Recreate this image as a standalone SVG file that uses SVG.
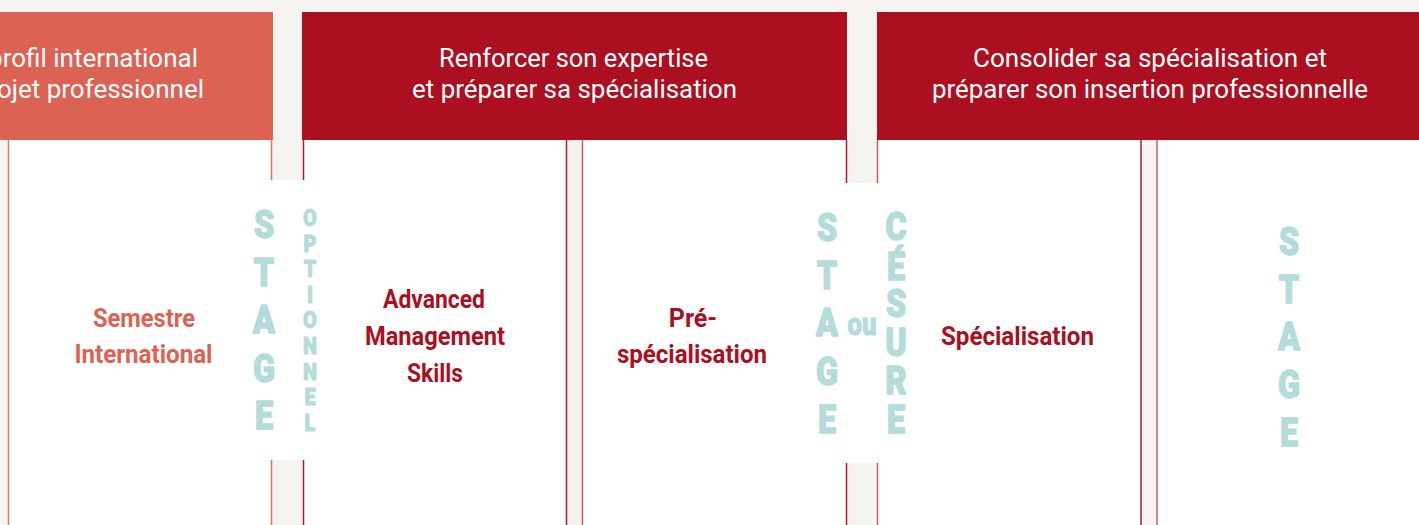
<svg xmlns="http://www.w3.org/2000/svg" width="1419" height="525" viewBox="0 0 1419 525">
<style>
.bg{fill:#f5f4f0}
.panel{fill:#ffffff}
.hdr-s{fill:#dc6253}
.hdr-r{fill:#ab0f20}
.htxt{font-family:Roboto,"Liberation Sans",sans-serif;font-size:26px;fill:#ffffff;text-anchor:middle}
.lbl{font-family:Roboto,"Liberation Sans",sans-serif;font-size:25px;font-weight:bold;text-anchor:middle}
.lbl-s{fill:#dc6253}
.lbl-r{fill:#ab0f20}
.stg{font-family:Roboto,"Liberation Sans",sans-serif;font-weight:900;fill:#b3dcdb;stroke:#b3dcdb;stroke-width:1.3;stroke-linejoin:round;text-anchor:middle}
.big{font-size:38px}
.small{font-size:23.5px;stroke-width:0.9}
.ln-s{stroke:#e5766a;stroke-width:1.5;fill:none}
.ln-r{stroke:#b41a2c;stroke-width:1.5;fill:none}
.ln-p{stroke:#cf5a68;stroke-width:1.5;fill:none}
</style>
<rect class="bg" x="0" y="0" width="1419" height="525"/>
<g id="dividers">
<rect class="panel" x="8" y="140" width="264" height="385"/>
<rect class="panel" x="303" y="140" width="264" height="385"/>
<rect class="panel" x="582" y="140" width="265" height="385"/>
<rect class="panel" x="877" y="140" width="264" height="385"/>
<rect class="panel" x="1157" y="140" width="262" height="385"/>
<line class="ln-s" x1="8.5" y1="140" x2="8.5" y2="525"/>
<line class="ln-s" x1="271.5" y1="140" x2="271.5" y2="525"/>
<line class="ln-r" x1="303.5" y1="140" x2="303.5" y2="525"/>
<line class="ln-r" x1="566.5" y1="140" x2="566.5" y2="525"/>
<line class="ln-p" x1="582.5" y1="140" x2="582.5" y2="525"/>
<line class="ln-r" x1="846.5" y1="140" x2="846.5" y2="525"/>
<line class="ln-p" x1="877.5" y1="140" x2="877.5" y2="525"/>
<line class="ln-r" x1="1141" y1="140" x2="1141" y2="525"/>
<line class="ln-p" x1="1157" y1="140" x2="1157" y2="525"/>
<rect class="panel" x="270" y="180" width="35" height="280"/>
<rect class="panel" x="845" y="183" width="34" height="280"/>
</g>
<g id="header-1">
<rect class="hdr-s" x="0" y="12" width="273" height="128"/>
<text class="htxt" x="198" y="67" style="text-anchor:end">profil international</text>
<text class="htxt" x="204" y="98" style="text-anchor:end">ojet professionnel</text>
</g>
<g id="header-2">
<rect class="hdr-r" x="302" y="12" width="545" height="128"/>
<text class="htxt" x="573.5" y="67" textLength="269" lengthAdjust="spacingAndGlyphs">Renforcer son expertise</text>
<text class="htxt" x="574.5" y="98" textLength="325" lengthAdjust="spacingAndGlyphs">et préparer sa spécialisation</text>
</g>
<g id="header-3">
<rect class="hdr-r" x="877" y="12" width="542" height="128"/>
<text class="htxt" x="1150" y="67" textLength="354" lengthAdjust="spacingAndGlyphs">Consolider sa spécialisation et</text>
<text class="htxt" x="1150" y="98" textLength="436" lengthAdjust="spacingAndGlyphs">préparer son insertion professionnelle</text>
</g>
<g id="col-semestre">
<text class="lbl lbl-s" x="144" y="327" textLength="102" lengthAdjust="spacingAndGlyphs">Semestre</text>
<text class="lbl lbl-s" x="143.5" y="363" textLength="138" lengthAdjust="spacingAndGlyphs">International</text>
</g>
<g id="stage-optionnel">
<g transform="translate(264,0) scale(0.85,1)">
<text class="stg big" x="0" y="238">S</text>
<text class="stg big" x="0" y="286">T</text>
<text class="stg big" x="0" y="333">A</text>
<text class="stg big" x="0" y="382">G</text>
<text class="stg big" x="0" y="429">E</text>
</g>
<g transform="translate(310,0) scale(0.85,1)">
<text class="stg small" x="0" y="226">O</text>
<text class="stg small" x="0" y="251.6">P</text>
<text class="stg small" x="0" y="277.2">T</text>
<text class="stg small" x="0" y="302.8">I</text>
<text class="stg small" x="0" y="328.4">O</text>
<text class="stg small" x="0" y="354">N</text>
<text class="stg small" x="0" y="379.6">N</text>
<text class="stg small" x="0" y="405.2">E</text>
<text class="stg small" x="0" y="430.8">L</text>
</g>
</g>
<g id="col-ams">
<text class="lbl lbl-r" x="434" y="308" textLength="102" lengthAdjust="spacingAndGlyphs">Advanced</text>
<text class="lbl lbl-r" x="435" y="345" textLength="140" lengthAdjust="spacingAndGlyphs">Management</text>
<text class="lbl lbl-r" x="435" y="382" textLength="56" lengthAdjust="spacingAndGlyphs">Skills</text>
</g>
<g id="col-prespe">
<text class="lbl lbl-r" x="693" y="327">Pré-</text>
<text class="lbl lbl-r" x="692" y="363" textLength="150" lengthAdjust="spacingAndGlyphs">spécialisation</text>
</g>
<g id="stage-cesure">
<g transform="translate(827,0) scale(0.85,1)">
<text class="stg big" x="0" y="241">S</text>
<text class="stg big" x="0" y="289">T</text>
<text class="stg big" x="0" y="336">A</text>
<text class="stg big" x="0" y="385">G</text>
<text class="stg big" x="0" y="433">E</text>
</g>
<text class="stg" x="862" y="335" style="font-size:31px;stroke-width:1" textLength="29" lengthAdjust="spacingAndGlyphs">ou</text>
<g transform="translate(896,0) scale(0.85,1)">
<text class="stg big" x="0" y="240">C</text>
<text class="stg big" x="0" y="280">É</text>
<text class="stg big" x="0" y="317">S</text>
<text class="stg big" x="0" y="356">U</text>
<text class="stg big" x="0" y="394">R</text>
<text class="stg big" x="0" y="433">E</text>
</g>
</g>
<g id="col-spe">
<text class="lbl lbl-r" x="1017.5" y="345" textLength="153" lengthAdjust="spacingAndGlyphs">Spécialisation</text>
</g>
<g id="stage-final">
<g transform="translate(1289,0) scale(0.85,1)">
<text class="stg big" x="0" y="255">S</text>
<text class="stg big" x="0" y="303">T</text>
<text class="stg big" x="0" y="350">A</text>
<text class="stg big" x="0" y="398">G</text>
<text class="stg big" x="0" y="446">E</text>
</g>
</g>
</svg>
